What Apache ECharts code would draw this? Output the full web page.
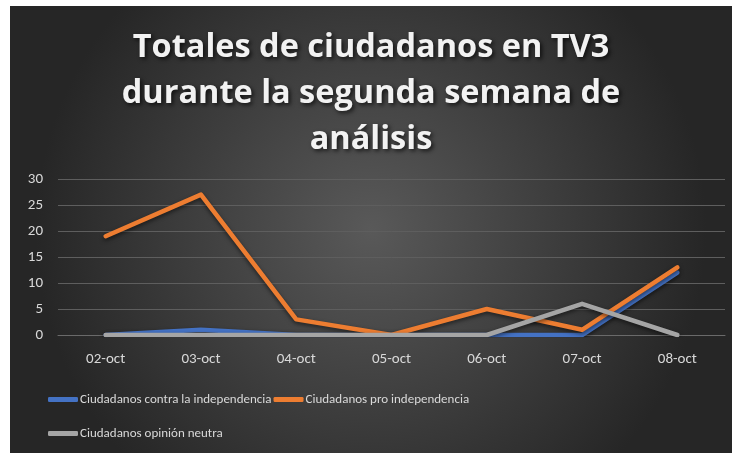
<!DOCTYPE html>
<html>
<head>
<meta charset="utf-8">
<script src="https://cdn.jsdelivr.net/npm/echarts@6/dist/echarts.min.js"></script>
<style>
  html, body { margin: 0; padding: 0; background: #fff; }
  #chart { position: absolute; left: 10px; top: 6px; width: 722px; height: 447px; }
</style>
</head>
<body>
<div id="chart"></div>
<script>
// datos del gráfico
var dias = ['02-oct', '03-oct', '04-oct', '05-oct', '06-oct', '07-oct', '08-oct']
var contra = [0, 1, 0, 0, 0, 0, 12]
var pro = [19, 27, 3, 0, 5, 1, 13]
var neutra = [0, 0, 0, 0, 0, 6, 0]
var nombres = ['Ciudadanos contra la independencia', 'Ciudadanos pro independencia', 'Ciudadanos opinión neutra']
var colores = ['#4472C4', '#ED7D31', '#A5A5A5']

var fuente = 'Carlito, "Liberation Sans Narrow", "Open Sans", sans-serif'

function linea(nombre, datos, color) {
  return {
    name: nombre,
    type: 'line',
    data: datos,
    symbol: 'none',
    color: color,
    lineStyle: {
      width: 4.5,
      color: color,
      cap: 'round',
      join: 'round',
      shadowColor: 'rgba(0,0,0,0.55)',
      shadowBlur: 4,
      shadowOffsetY: 2
    }
  }
}

var chart = echarts.init(document.getElementById('chart'))
var option = {
  animation: false,
  backgroundColor: {
    type: 'radial', x: 0.5, y: 0.5, r: 0.75,
    colorStops: [
      { offset: 0, color: '#595959' },
      { offset: 1, color: '#262626' }
    ]
  },
  title: {
    text: 'Totales de ciudadanos en TV3\ndurante la segunda semana de\nanálisis',
    left: 'center',
    top: 14,
    textStyle: {
      color: '#f2f2f2',
      fontFamily: '"Open Sans", sans-serif',
      fontWeight: 'bold',
      fontSize: 32.5,
      lineHeight: 46,
      textShadowColor: 'rgba(0,0,0,0.7)',
      textShadowBlur: 4,
      textShadowOffsetX: 2,
      textShadowOffsetY: 2
    }
  },
  legend: [
    {
      data: [nombres[0], nombres[1]],
      left: 33, top: 382,
      itemWidth: 30, itemHeight: 5, itemGap: 2,
      icon: 'roundRect',
      textStyle: { color: '#d9d9d9', fontSize: 13, fontFamily: fuente, padding: [0, 0, 0, -3] }
    },
    {
      data: [nombres[2]],
      left: 33, top: 416,
      itemWidth: 30, itemHeight: 5,
      icon: 'roundRect',
      textStyle: { color: '#d9d9d9', fontSize: 13, fontFamily: fuente, padding: [0, 0, 0, -3] }
    }
  ],
  grid: { left: 48, right: 7, top: 173, bottom: 118 },
  xAxis: {
    type: 'category',
    data: dias,
    boundaryGap: true,
    axisLine: { lineStyle: { color: '#6a6a6a', width: 1 } },
    axisTick: { show: false },
    axisLabel: { color: '#d9d9d9', fontSize: 15, fontFamily: fuente, margin: 17 }
  },
  yAxis: {
    type: 'value',
    min: 0, max: 30, interval: 5,
    axisLine: { show: false },
    axisTick: { show: false },
    splitLine: { lineStyle: { color: '#5e5e5e', width: 1 } },
    axisLabel: { color: '#d9d9d9', fontSize: 15, fontFamily: fuente, margin: 15 }
  },
  series: [
    linea(nombres[0], contra, colores[0]),
    linea(nombres[1], pro, colores[1]),
    linea(nombres[2], neutra, colores[2])
  ]
}
chart.setOption(option)
</script>
</body>
</html>
